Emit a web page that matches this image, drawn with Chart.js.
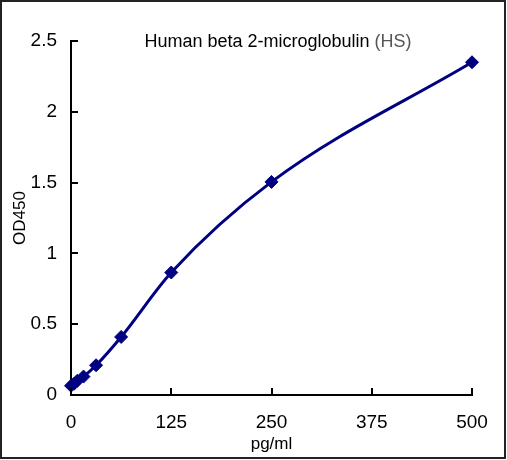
<!DOCTYPE html>
<html>
<head>
<meta charset="utf-8">
<script src="https://cdn.jsdelivr.net/npm/chart.js@4"></script>
<style>
  html, body { margin: 0; padding: 0; background: #fff; }
  #wrap { width: 507px; height: 460px; position: relative; }
</style>
</head>
<body>
<div id="wrap"><canvas id="chart" width="507" height="460"></canvas></div>
<script>
// Datos de la curva estándar
const concentrations = [0, 3.9, 7.8, 15.6, 31.25, 62.5, 125, 250, 500];
const odValues = [0.065, 0.08, 0.10, 0.13, 0.21, 0.41, 0.865, 1.505, 2.35];
const xTicks = [0, 125, 250, 375, 500];
const yTicks = [0, 0.5, 1, 1.5, 2, 2.5];
const titleMain = 'Human beta 2-microglobulin ';
const titleSuffix = '(HS)';

const FONT = "'Liberation Sans', Arial, sans-serif";

// Marco exterior, título en dos colores y marcas de eje hacia dentro
const decorPlugin = {
    id: 'decor',
    afterDraw(chart) {
        const ctx = chart.ctx;
        const x = chart.scales.x;
        const y = chart.scales.y;
        ctx.save();

        // ticks hacia dentro
        ctx.strokeStyle = '#000';
        ctx.lineWidth = 2;
        ctx.beginPath();
        xTicks.forEach(v => {
            const px = Math.round(x.getPixelForValue(v));
            ctx.moveTo(px, y.bottom);
            ctx.lineTo(px, y.bottom - 7);
        });
        yTicks.forEach(v => {
            const py = Math.round(y.getPixelForValue(v));
            ctx.moveTo(x.left, py);
            ctx.lineTo(x.left + 7, py);
        });
        ctx.stroke();

        // título
        ctx.font = '18px ' + FONT;
        ctx.textBaseline = 'middle';
        ctx.textAlign = 'left';
        const w1 = ctx.measureText(titleMain).width;
        const w2 = ctx.measureText(titleSuffix).width;
        const cx = 278;
        let tx = cx - (w1 + w2) / 2;
        ctx.fillStyle = '#000';
        ctx.fillText(titleMain, tx, 42);
        ctx.fillStyle = '#555';
        ctx.fillText(titleSuffix, tx + w1, 42);

        // marco
        ctx.strokeStyle = '#222';
        ctx.lineWidth = 2;
        ctx.strokeRect(1, 1, 504, 457);
        ctx.restore();
    }
};

const ctx = document.getElementById('chart').getContext('2d');
new Chart(ctx, {
    type: 'line',
    data: {
        datasets: [{
            data: concentrations.map((c, i) => ({ x: c, y: odValues[i] })),
            borderColor: '#000080',
            backgroundColor: '#000080',
            borderWidth: 3,
            cubicInterpolationMode: 'monotone',
            pointStyle: 'rectRot',
            pointRadius: 6.5,
            pointBorderWidth: 1,
            pointBorderColor: '#000080',
            pointBackgroundColor: '#000080',
            fill: false,
            clip: false
        }]
    },
    options: {
        responsive: false,
        animation: false,
        devicePixelRatio: 1,
        layout: { padding: { top: 41, right: 35, bottom: 0, left: 0 } },
        plugins: {
            legend: { display: false },
            tooltip: { enabled: false }
        },
        scales: {
            x: {
                type: 'linear',
                min: 0,
                max: 500,
                afterBuildTicks: s => { s.ticks = xTicks.map(v => ({ value: v })); },
                afterFit: s => { s.height = 65; },
                grid: { display: false, drawTicks: false },
                border: { display: true, color: '#000', width: 2 },
                ticks: {
                    color: '#000',
                    padding: 16,
                    maxRotation: 0,
                    font: { family: FONT, size: 19 }
                },
                title: {
                    display: true,
                    text: 'pg/ml',
                    color: '#000',
                    padding: { top: 0, bottom: 5 },
                    font: { family: FONT, size: 17 }
                }
            },
            y: {
                type: 'linear',
                min: 0,
                max: 2.5,
                afterBuildTicks: s => { s.ticks = yTicks.map(v => ({ value: v })); },
                afterFit: s => { s.width = 71; },
                grid: { display: false, drawTicks: false },
                border: { display: true, color: '#000', width: 2 },
                ticks: {
                    color: '#000',
                    padding: 14,
                    font: { family: FONT, size: 19 },
                    callback: v => String(v)
                },
                title: {
                    display: true,
                    text: 'OD450',
                    color: '#000',
                    padding: { top: 10, bottom: 0 },
                    font: { family: FONT, size: 17 }
                }
            }
        }
    },
    plugins: [decorPlugin]
});
</script>
</body>
</html>
